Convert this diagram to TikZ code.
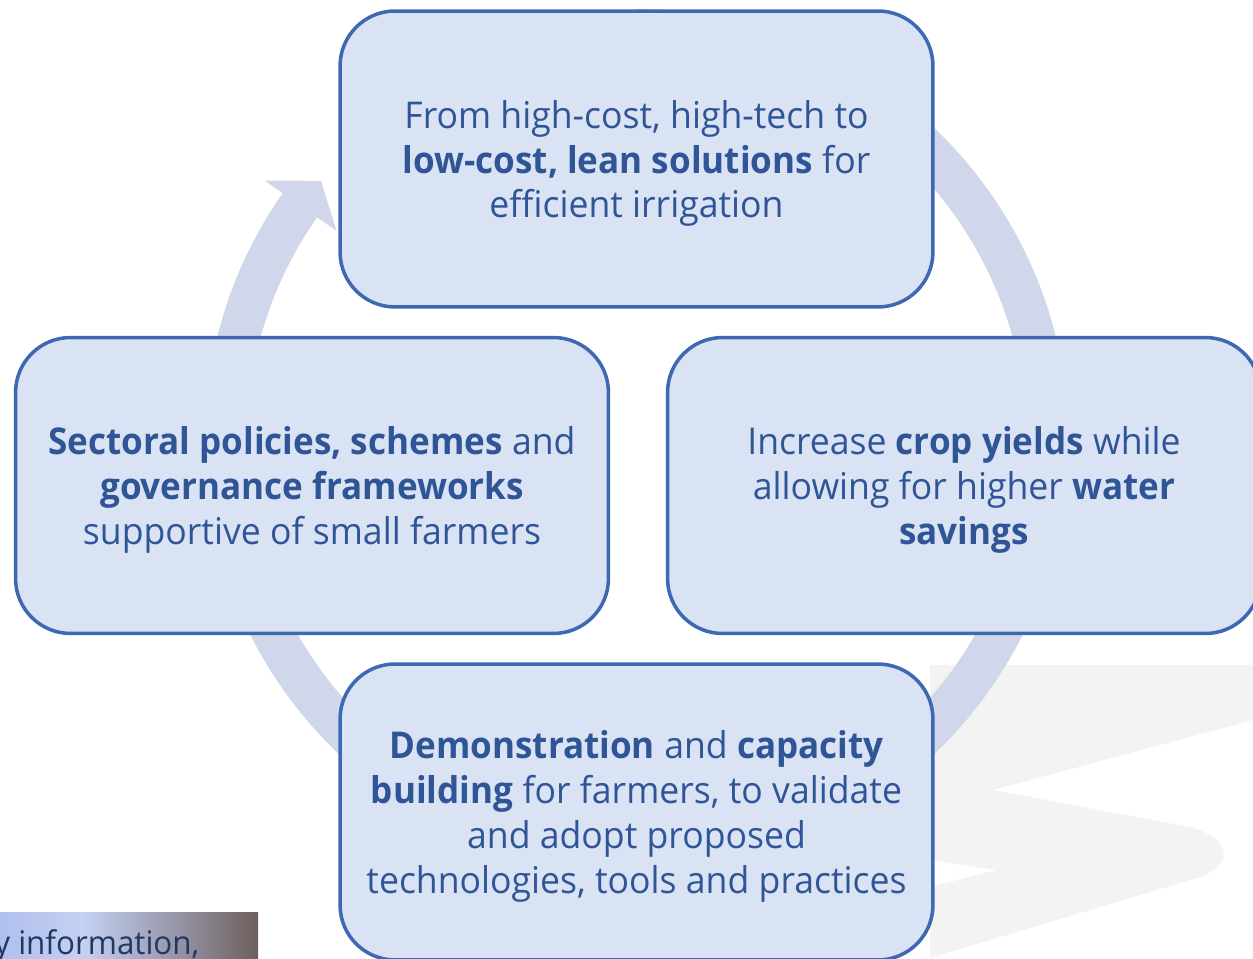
\documentclass[tikz,border=0pt]{standalone}
\usepackage{fontspec}
\setmainfont{Open Sans}[FakeStretch=0.965,BoldFeatures={FakeStretch=0.95}]
\usetikzlibrary{positioning}
\definecolor{boxfill}{RGB}{218,227,243}
\definecolor{boxline}{RGB}{61,104,178}
\definecolor{boxtext}{RGB}{47,85,151}
\definecolor{ringfill}{RGB}{208,215,235}
\definecolor{markgray}{RGB}{243,243,243}
\definecolor{fragtext}{RGB}{31,56,100}
\pgfdeclarehorizontalshading{fragshade}{100bp}{rgb(0bp)=(0.69,0.75,0.93); rgb(25bp)=(0.69,0.75,0.93); rgb(41bp)=(0.77,0.82,0.95); rgb(58bp)=(0.60,0.60,0.68); rgb(75bp)=(0.43,0.37,0.36); rgb(100bp)=(0.43,0.37,0.36)}
\begin{document}
\begin{tikzpicture}[x=0.02cm,y=0.02cm,
    stepbox/.style={draw=boxline,line width=2pt,fill=boxfill,rounded corners=1.1cm,
      minimum width=11.86cm,minimum height=5.92cm,align=center,text=boxtext,
      text depth=0pt,font=\fontsize{21}{25.6}\selectfont}]
  \useasboundingbox (0,0) rectangle (1253,959);
  \clip (0,0) rectangle (1253,959);
  % faint mark in the background
  \fill[markgray] (930,294) -- (1253,294) -- (1253,239) -- (993,169) -- (1190,132)
    .. controls (1235,120) and (1235,90) .. (1190,79) -- (930,1) -- (930,72)
    -- (997,89) -- (930,99) -- cycle;
  % cycle ring
  \coordinate (hub) at (636.5,518);
  \begin{scope}[shift={(hub)}]
    \draw[ringfill,line width=0.84cm] (90:411) arc[start angle=90,end angle=-215.5,radius=411];
    \fill[ringfill] (145:454) -- (140.5:409) -- (145:366) -- cycle;
  \end{scope}
  % the four steps
  \node[stepbox] at (636.5,800) (tech) {From high-cost, high-tech to\\
    \textbf{low-cost, lean solutions} for\\ efficient irrigation};
  \node[stepbox] at (312,473.5) (policy) {\textbf{Sectoral policies, schemes} and\\
    \textbf{governance frameworks}\\ supportive of small farmers};
  \node[stepbox] at (964,473.5) (yield) {Increase \textbf{crop yields} while\\
    allowing for higher \textbf{water}\\ \textbf{savings}};
  \node[stepbox] at (636.5,147) (demo) {\textbf{Demonstration} and \textbf{capacity}\\
    \textbf{building} for farmers, to validate\\ and adopt proposed\\
    technologies, tools and practices};
  % cut-off strip, bottom left
  \shade[shading=fragshade] (0,0) rectangle (258,46);
  \node[anchor=base west,inner sep=0pt,text=fragtext,font=\fontsize{18.5}{22}\selectfont]
    at (-6,4) (frag) {y information,};
\end{tikzpicture}
\end{document}
